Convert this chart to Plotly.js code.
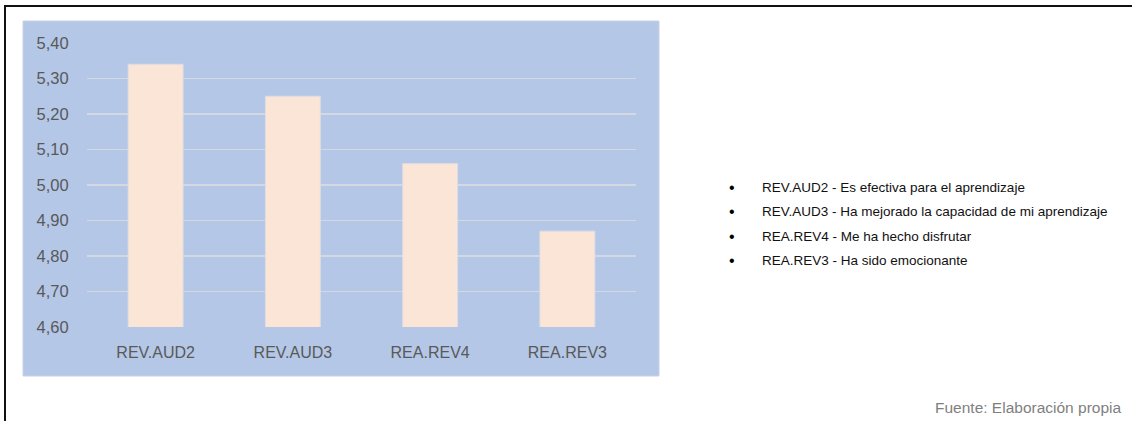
<!DOCTYPE html>
<html>
<head>
<meta charset="utf-8">
<script src="https://cdn.plot.ly/plotly-3.0.1.min.js"></script>
<style>
  html, body { margin: 0; padding: 0; background: #ffffff; }
  #wrap { position: relative; width: 1132px; height: 421px; overflow: hidden; }
  #frame { position: absolute; left: 4px; top: 5px; width: 1140px; height: 430px;
           border-top: 2px solid #111; border-left: 2px solid #111; pointer-events: none; z-index: 5; }
  #chart { position: absolute; left: 0; top: 0; width: 1132px; height: 421px; }
</style>
</head>
<body>
<div id="wrap">
  <div id="chart"></div>
  <div id="frame"></div>
</div>
<script>
// ---- data ----
const categories = ['REV.AUD2', 'REV.AUD3', 'REA.REV4', 'REA.REV3'];
const values = [5.34, 5.25, 5.06, 4.87];
const yTicks = [4.60, 4.70, 4.80, 4.90, 5.00, 5.10, 5.20, 5.30, 5.40];
const legendLines = [
  'REV.AUD2 - Es efectiva para el aprendizaje',
  'REV.AUD3 - Ha mejorado la capacidad de mi aprendizaje',
  'REA.REV4 - Me ha hecho disfrutar',
  'REA.REV3 - Ha sido emocionante'
];
const sourceText = 'Fuente: Elaboración propia';

// ---- layout helpers (pixel -> paper) ----
const W = 1132, H = 421;
const PL = 87, PR = 636, PT = 43, PB = 327;
const px = x => (x - PL) / (PR - PL);
const py = y => (PB - y) / (PB - PT);

const legendY = [187, 211.5, 236, 260.5];
const annotations = [];
legendLines.forEach((t, i) => {
  annotations.push({
    xref: 'paper', yref: 'paper', x: px(727), y: py(legendY[i]),
    xanchor: 'left', yanchor: 'middle', showarrow: false,
    text: '•', font: { family: 'Liberation Sans, Arial, sans-serif', size: 16, color: '#000' }
  });
  annotations.push({
    xref: 'paper', yref: 'paper', x: px(760), y: py(legendY[i]),
    xanchor: 'left', yanchor: 'middle', showarrow: false,
    text: t, font: { family: 'Liberation Sans, Arial, sans-serif', size: 13.5, color: '#111' }
  });
});
annotations.push({
  xref: 'paper', yref: 'paper', x: px(1124), y: py(407),
  xanchor: 'right', yanchor: 'middle', showarrow: false,
  text: sourceText, font: { family: 'Liberation Sans, Arial, sans-serif', size: 15.5, color: '#7f7f7f' }
});

const trace = {
  type: 'bar',
  x: categories,
  y: values,
  marker: { color: '#FBE5D6', line: { color: '#DEDDE2', width: 1 } },
  width: 0.4,
  hoverinfo: 'skip'
};

const layout = {
  width: W, height: H,
  margin: { l: PL, r: W - PR, t: PT, b: H - PB, pad: 0 },
  paper_bgcolor: '#ffffff',
  plot_bgcolor: 'rgba(0,0,0,0)',
  separators: ',.',
  showlegend: false,
  xaxis: {
    type: 'category',
    showgrid: false, zeroline: false, showline: false,
    ticks: 'outside', ticklen: 11, tickcolor: 'rgba(0,0,0,0)',
    tickfont: { family: 'Liberation Sans, Arial, sans-serif', size: 16, color: '#595959' }
  },
  yaxis: {
    range: [4.6, 5.4],
    tickvals: yTicks,
    tickformat: '.2f',
    showgrid: true, gridcolor: '#D3D8E2', gridwidth: 1.5,
    zeroline: false, showline: false,
    ticks: 'outside', ticklen: 14, tickcolor: 'rgba(0,0,0,0)',
    tickfont: { family: 'Liberation Sans, Arial, sans-serif', size: 16.5, color: '#595959' }
  },
  shapes: [{
    type: 'rect', xref: 'paper', yref: 'paper', layer: 'below',
    x0: px(23), x1: px(659), y0: py(376), y1: py(21),
    fillcolor: '#B4C7E7', line: { color: '#C9D3E3', width: 1 }
  }],
  annotations: annotations
};

Plotly.newPlot('chart', [trace], layout, { staticPlot: true, displayModeBar: false });
</script>
</body>
</html>
